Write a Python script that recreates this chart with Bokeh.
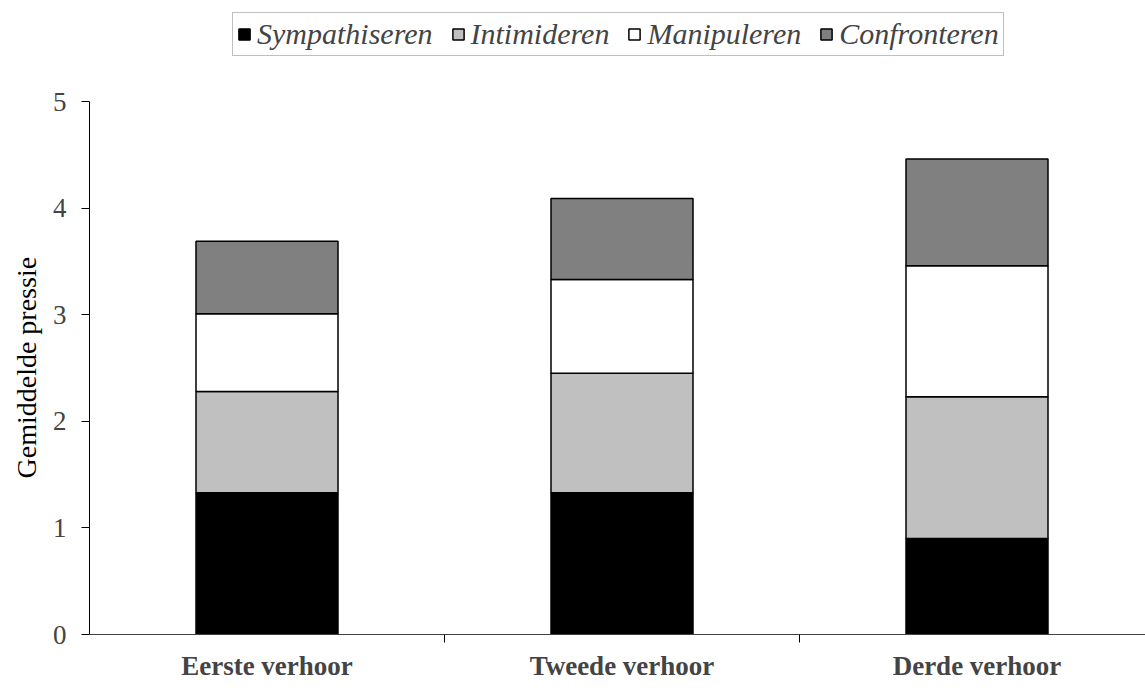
from bokeh.plotting import figure
from bokeh.models import ColumnDataSource, FixedTicker, Range1d, Legend, LegendItem, Title
from bokeh.embed import file_html
from bokeh.resources import INLINE

categories = ["Eerste verhoor", "Tweede verhoor", "Derde verhoor"]
series = ["Sympathiseren", "Intimideren", "Manipuleren", "Confronteren"]
sympathiseren = [1.33, 1.33, 0.90]
intimideren = [0.95, 1.12, 1.33]
manipuleren = [0.73, 0.88, 1.23]
confronteren = [0.68, 0.76, 1.00]
colors = ["#000000", "#C0C0C0", "#FFFFFF", "#808080"]
y_ticks = [0, 1, 2, 3, 4, 5]
y_max = 5
y_title = "Gemiddelde pressie"

xpos = [i + 0.5 for i in range(len(categories))]
src = ColumnDataSource(dict(x=xpos, Sympathiseren=sympathiseren, Intimideren=intimideren,
                            Manipuleren=manipuleren, Confronteren=confronteren))

FONT = "Liberation Serif, serif"

# frame spans the full top of the canvas so the legend can sit inside it;
# the axis itself is bounded to 0..5
p = figure(width=1145, height=691, output_backend="svg", toolbar_location=None,
           x_range=Range1d(0, 1056 / 355), y_range=Range1d(0, y_max * 634 / 533),
           min_border_left=89, min_border_right=0, min_border_bottom=57, min_border_top=0)
p.outline_line_color = None
p.xgrid.grid_line_color = None
p.ygrid.grid_line_color = None

renderers = p.vbar_stack(series, x="x", width=0.4, source=src, color=colors,
                         line_color="#000000", line_width=1.5)

legend = Legend(items=[LegendItem(label=s, renderers=[r]) for s, r in zip(series, renderers)],
                orientation="horizontal", location=(143, 578),
                label_text_font=FONT, label_text_font_style="italic", label_text_font_size="30px",
                glyph_width=14, glyph_height=14, label_standoff=6, spacing=18,
                padding=4, margin=0, border_line_color="#808080", border_line_width=1,
                background_fill_color="#FFFFFF", label_height=30)
p.add_layout(legend, "center")

# y axis
p.yaxis.bounds = (0, y_max)
p.yaxis.ticker = FixedTicker(ticks=y_ticks)
p.yaxis.minor_tick_line_color = None
p.yaxis.major_tick_in = 0
p.yaxis.major_tick_out = 8
p.yaxis.axis_line_color = "#000000"
p.yaxis.major_label_text_font = FONT
p.yaxis.major_label_text_font_size = "27px"
p.yaxis.major_label_standoff = 15

ytitle = Title(text=y_title, align="left", offset=156, text_font=FONT,
               text_font_style="normal", text_font_size="28px", text_color="#000000",
               standoff=16)
p.add_layout(ytitle, "left")

# x axis: category labels at centres, ticks at boundaries
p.xaxis.ticker = FixedTicker(ticks=xpos, minor_ticks=[1, 2, 3])
p.xaxis.major_label_overrides = {x: c for x, c in zip(xpos, categories)}
p.xaxis.major_tick_line_color = None
p.xaxis.minor_tick_in = 0
p.xaxis.minor_tick_out = 8
p.xaxis.minor_tick_line_color = "#000000"
p.xaxis.axis_line_color = "#404040"
p.xaxis.major_label_text_font = FONT
p.xaxis.major_label_text_font_style = "bold"
p.xaxis.major_label_text_font_size = "27px"
p.xaxis.major_label_standoff = 8

open("out.html", "w").write(file_html(p, INLINE))
